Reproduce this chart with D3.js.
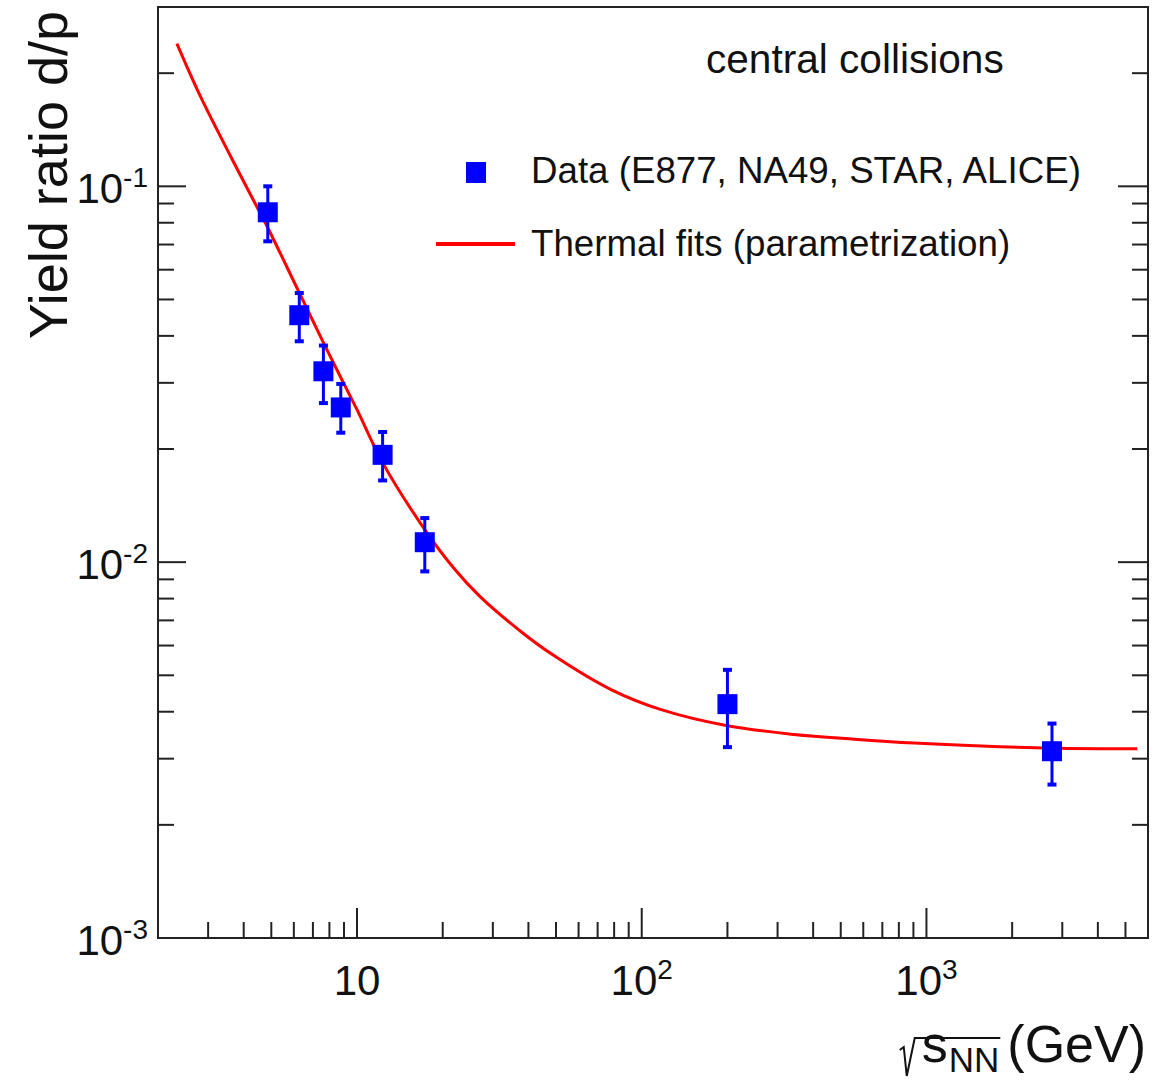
<!DOCTYPE html>
<html>
<head>
<meta charset="utf-8">
<script src="https://cdn.jsdelivr.net/npm/d3@7"></script>
<style>
  html, body { margin: 0; padding: 0; background: #fff; }
  svg { display: block; }
  text { font-family: "Liberation Sans", Arial, Helvetica, sans-serif; fill: #111; }
</style>
</head>
<body>
<svg id="chart" width="1154" height="1080"></svg>
<script>
// Measured d/p yield ratios in central collisions (E877, NA49, STAR, ALICE)
const energies = [4.86, 6.27, 7.62, 8.77, 12.3, 17.3, 200, 2760];
const ratios   = [0.0853, 0.0454, 0.0322, 0.0258, 0.0193, 0.0113, 0.00419, 0.00314];
const ratioLow = [0.0714, 0.0387, 0.0265, 0.0221, 0.0165, 0.00945, 0.00322, 0.00256];
const ratioHigh= [0.1000, 0.0520, 0.0377, 0.0298, 0.0222, 0.0131, 0.00517, 0.00372];

// Thermal-model parametrization, sampled along the curve
const fitEnergy = [2.33, 2.8, 3.5, 4.3, 4.86, 6.27, 7.62, 8.77, 10.0, 12.3, 17.3, 22, 27, 38, 49, 78, 117, 200, 343, 558, 907, 1560, 2800, 5500];
const fitRatio  = [0.2398, 0.1754, 0.1252, 0.0927, 0.0776, 0.0521, 0.0384, 0.0310, 0.02545, 0.0184, 0.01221,
                   0.00959, 0.00811, 0.00650, 0.00565, 0.00458, 0.00405, 0.00367, 0.00348, 0.00338, 0.00330,
                   0.00324, 0.00320, 0.00319];

// Axis definitions
const xDomain = [2, 6000];
const yDomain = [1e-3, 0.3];
const xMajor = [10, 100, 1000];
const xMajorExp = ["", "2", "3"];
const yMajor = [1e-3, 1e-2, 1e-1];
const yMajorExp = ["-3", "-2", "-1"];

const legendLabels = ["Data (E877, NA49, STAR, ALICE)", "Thermal fits (parametrization)"];
const annotation = "central collisions";
const yTitle = "Yield ratio d/p";

const frame = { left: 158, right: 1148, top: 7, bottom: 938 };
const svg = d3.select("#chart");

const x = d3.scaleLog().domain(xDomain).range([frame.left, frame.right]);
const y = d3.scaleLog().domain(yDomain).range([frame.bottom, frame.top]);

// tick values (1..9 per decade) inside the domain
function logTicks(domain) {
  const out = [];
  for (let e = Math.floor(Math.log10(domain[0])); e <= Math.ceil(Math.log10(domain[1])); e++) {
    for (let m = 1; m <= 9; m++) {
      const v = m * Math.pow(10, e);
      if (v >= domain[0] * 0.9999 && v <= domain[1] * 1.0001) out.push({ v, major: m === 1 });
    }
  }
  return out;
}

const axisColor = "#222";
const g = svg.append("g");

// frame
g.append("rect")
  .attr("x", frame.left).attr("y", frame.top)
  .attr("width", frame.right - frame.left).attr("height", frame.bottom - frame.top)
  .attr("fill", "none").attr("stroke", axisColor).attr("stroke-width", 2);

// x ticks along bottom (pointing inward)
g.append("g").selectAll("line").data(logTicks(xDomain)).join("line")
  .attr("x1", d => x(d.v)).attr("x2", d => x(d.v))
  .attr("y1", frame.bottom).attr("y2", d => frame.bottom - (d.major ? 30 : 16))
  .attr("stroke", axisColor).attr("stroke-width", 2);

// y ticks on left and right (pointing inward)
const yt = logTicks(yDomain);
g.append("g").selectAll("line").data(yt).join("line")
  .attr("x1", frame.left).attr("x2", d => frame.left + (d.major ? 28 : 16))
  .attr("y1", d => y(d.v)).attr("y2", d => y(d.v))
  .attr("stroke", axisColor).attr("stroke-width", 2);
g.append("g").selectAll("line").data(yt).join("line")
  .attr("x1", frame.right).attr("x2", d => frame.right - (d.major ? 30 : 16))
  .attr("y1", d => y(d.v)).attr("y2", d => y(d.v))
  .attr("stroke", axisColor).attr("stroke-width", 2);

// x tick labels: 10, 10^2, 10^3
xMajor.forEach((v, i) => {
  const t = g.append("text")
    .attr("x", x(v)).attr("y", 995)
    .attr("text-anchor", "middle")
    .style("font-size", "42px");
  t.append("tspan").text("10");
  if (xMajorExp[i]) t.append("tspan").attr("dy", -16).style("font-size", "28px").text(xMajorExp[i]);
});

// y tick labels: 10^-3, 10^-2, 10^-1
yMajor.forEach((v, i) => {
  const t = g.append("text")
    .attr("x", 148).attr("y", y(v) + 17)
    .attr("text-anchor", "end")
    .style("font-size", "42px");
  t.append("tspan").text("10");
  t.append("tspan").attr("dy", -16).style("font-size", "28px").text(yMajorExp[i]);
});

// y axis title
svg.append("text")
  .attr("transform", "translate(67,11) rotate(-90)")
  .attr("text-anchor", "end")
  .style("font-size", "54px")
  .text(yTitle);

// x axis title: sqrt(s_NN) (GeV)
const xt = svg.append("g");
const right = 1146;
const gev = xt.append("text").attr("x", right).attr("y", 1062).attr("text-anchor", "end")
  .style("font-size", "52px").text("(GeV)");
const gevStart = right - gev.node().getComputedTextLength();
const nnEnd = gevStart - 8;
const nn = xt.append("text").attr("x", nnEnd).attr("y", 1072).attr("text-anchor", "end")
  .style("font-size", "35px").text("NN");
const nnStart = nnEnd - nn.node().getComputedTextLength();
const sEnd = nnStart - 1;
const s = xt.append("text").attr("x", sEnd).attr("y", 1062).attr("text-anchor", "end")
  .style("font-size", "52px").text("s");
const sx0 = sEnd - s.node().getComputedTextLength();
xt.append("path")
  .attr("d", `M${sx0 - 22},1050 L${sx0 - 18},1047 L${sx0 - 15},1076 L${sx0 - 7},1038 L${nnEnd + 1},1038`)
  .attr("fill", "none").attr("stroke", "#111").attr("stroke-width", 2)
  .attr("stroke-linejoin", "miter");

// annotation
svg.append("text").attr("x", 706).attr("y", 73)
  .style("font-size", "40.6px").text(annotation);

// clip the plot area
svg.append("clipPath").attr("id", "plotClip").append("rect")
  .attr("x", frame.left).attr("y", frame.top)
  .attr("width", frame.right - frame.left).attr("height", frame.bottom - frame.top);

const red = "#ff0000";
const blue = "#0000ff";

// thermal fit curve
const fitData = fitEnergy.map((e, i) => [e, fitRatio[i]]);
svg.append("path")
  .datum(fitData)
  .attr("clip-path", "url(#plotClip)")
  .attr("d", d3.line().x(d => x(d[0])).y(d => y(d[1])).curve(d3.curveCatmullRom.alpha(0.5)))
  .attr("fill", "none").attr("stroke", red).attr("stroke-width", 3);

// data points with error bars
const pts = energies.map((e, i) => ({ e, r: ratios[i], lo: ratioLow[i], hi: ratioHigh[i] }));
const pg = svg.append("g");
pg.selectAll("line.err").data(pts).join("line").attr("class", "err")
  .attr("x1", d => x(d.e)).attr("x2", d => x(d.e))
  .attr("y1", d => y(d.hi)).attr("y2", d => y(d.lo))
  .attr("stroke", blue).attr("stroke-width", 3);
pg.selectAll("rect.capHi").data(pts).join("rect").attr("class", "capHi")
  .attr("x", d => x(d.e) - 4.5).attr("y", d => y(d.hi) - 2)
  .attr("width", 9).attr("height", 4).attr("fill", blue);
pg.selectAll("rect.capLo").data(pts).join("rect").attr("class", "capLo")
  .attr("x", d => x(d.e) - 4.5).attr("y", d => y(d.lo) - 2)
  .attr("width", 9).attr("height", 4).attr("fill", blue);
pg.selectAll("rect.mk").data(pts).join("rect").attr("class", "mk")
  .attr("x", d => x(d.e) - 10).attr("y", d => y(d.r) - 10)
  .attr("width", 20).attr("height", 20).attr("fill", blue);

// legend
const lg = svg.append("g");
lg.append("rect").attr("x", 466).attr("y", 162).attr("width", 20).attr("height", 21).attr("fill", blue);
lg.append("text").attr("x", 531).attr("y", 183).style("font-size", "36.7px").text(legendLabels[0]);
lg.append("line").attr("x1", 436).attr("x2", 515).attr("y1", 244).attr("y2", 244)
  .attr("stroke", red).attr("stroke-width", 4);
lg.append("text").attr("x", 531).attr("y", 256).style("font-size", "36.7px").text(legendLabels[1]);
</script>
</body>
</html>
